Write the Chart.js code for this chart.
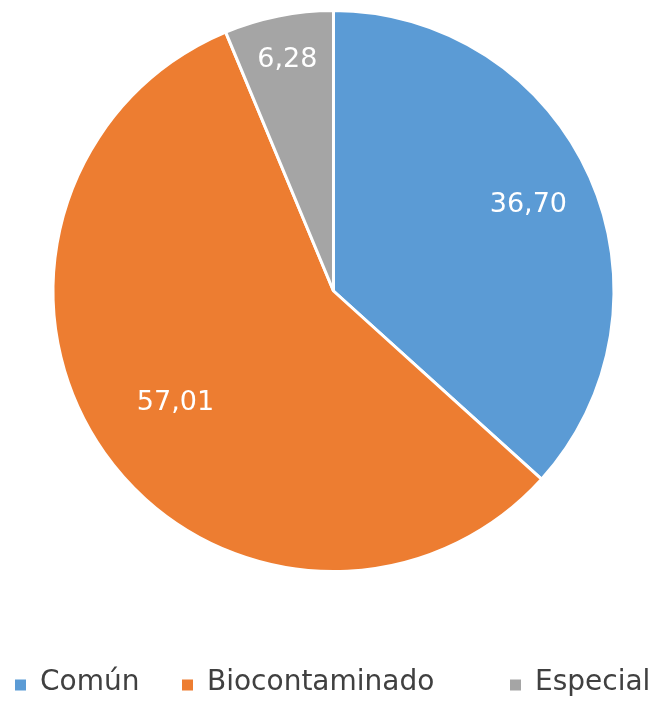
<!DOCTYPE html>
<html>
<head>
<meta charset="utf-8">
<script src="https://cdn.jsdelivr.net/npm/chart.js@4/dist/chart.umd.min.js"></script>
<style>
    html, body { margin: 0; padding: 0; background: #ffffff; }
    #wrap { width: 662px; height: 702px; }
</style>
</head>
<body>
<div id="wrap"><canvas id="pie" width="662" height="702"></canvas></div>
<script>
// Data
const categories = ['Común', 'Biocontaminado', 'Especial'];
const values = [36.70, 57.01, 6.28];
const sliceColors = ['#5B9BD5', '#ED7D31', '#A5A5A5'];

// How far out (fraction of radius) each value label sits
const labelRadius = [0.76, 0.69, 0.84];

const FONT = '"DejaVu Sans", Verdana, sans-serif';

// Value labels inside the slices
const sliceLabels = {
    id: 'sliceLabels',
    afterDatasetsDraw(chart) {
        const ctx = chart.ctx;
        const meta = chart.getDatasetMeta(0);
        ctx.save();
        ctx.font = '27px ' + FONT;
        ctx.fillStyle = '#ffffff';
        ctx.textAlign = 'center';
        ctx.textBaseline = 'middle';
        meta.data.forEach((arc, i) => {
            const p = arc.getProps(['x', 'y', 'startAngle', 'endAngle', 'outerRadius'], true);
            const mid = (p.startAngle + p.endAngle) / 2;
            const r = p.outerRadius * labelRadius[i];
            const text = values[i].toFixed(2).replace('.', ',');
            ctx.fillText(text, p.x + Math.cos(mid) * r, p.y + Math.sin(mid) * r);
        });
        ctx.restore();
    }
};

// Excel-style legend row under the pie (uneven spacing like the original)
const bottomLegend = {
    id: 'bottomLegend',
    afterDraw(chart, args, opts) {
        const ctx = chart.ctx;
        ctx.save();
        ctx.font = opts.fontSize + 'px ' + FONT;
        ctx.textBaseline = 'middle';
        ctx.textAlign = 'left';
        categories.forEach((name, i) => {
            const x = opts.x[i];
            ctx.fillStyle = sliceColors[i];
            ctx.fillRect(x, opts.y - opts.box / 2 + 2, opts.box, opts.box);
            ctx.fillStyle = '#404040';
            ctx.fillText(name, x + opts.box + 14, opts.y);
        });
        ctx.restore();
    }
};

new Chart(document.getElementById('pie').getContext('2d'), {
    type: 'pie',
    data: {
        labels: categories,
        datasets: [{
            data: values,
            backgroundColor: sliceColors,
            borderColor: '#ffffff',
            borderWidth: 3
        }]
    },
    options: {
        responsive: false,
        animation: false,
        layout: { padding: { top: 9, bottom: 129, left: 5, right: 0 } },
        plugins: {
            tooltip: { enabled: false },
            legend: { display: false },
            bottomLegend: { x: [15, 182, 510], y: 683, box: 11, fontSize: 28 }
        }
    },
    plugins: [sliceLabels, bottomLegend]
});
</script>
</body>
</html>
